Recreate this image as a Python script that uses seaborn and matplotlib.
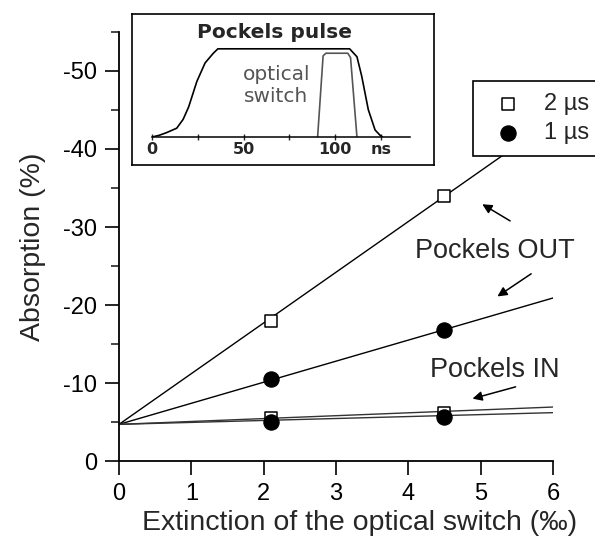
import numpy as np
import matplotlib
matplotlib.use("Agg")
import matplotlib.pyplot as plt
import seaborn as sns
import pandas as pd

# measured points (extinction in per mille, absorption in %)
extinction = [2.1, 4.5]
abs_out_2us = [-18.0, -34.0]
abs_out_1us = [-10.5, -16.8]
abs_in_2us = [-5.5, -6.2]
abs_in_1us = [-5.0, -5.6]

# linear fits: common intercept, one slope per series
fit_range = [0.0, 6.0]
fit_intercept = -4.7
fit_names = ['OUT 2us', 'OUT 1us', 'IN 2us', 'IN 1us']
fit_slopes = [-6.5, -2.7, -0.37, -0.25]
fit_colors = ['black', 'black', '#333333', '#333333']

# inset traces (ns, normalised amplitude)
pulse_t = [0, 4, 8, 13.5, 17, 20, 24.5, 29, 33.5, 36, 108, 112, 114.6, 118.2, 121.9, 124.6, 126]
pulse_a = [0, 0.02, 0.05, 0.10, 0.20, 0.34, 0.63, 0.84, 0.95, 1.0, 1.0, 0.91, 0.69, 0.31, 0.08, 0.02, 0]
switch_t = [90.5, 93.5, 95, 107, 108.5, 112]
switch_a = [0, 0.92, 0.95, 0.95, 0.90, 0]

x_ticks = [0, 1, 2, 3, 4, 5, 6]
y_ticks = [0, -10, -20, -30, -40, -50]
y_ticklabels = ['0', '-10', '-20', '-30', '-40', '-50']
inset_ticks = [0, 50, 100, 125]
inset_ticklabels = ['0', '50', '100', 'ns']

sns.set_theme(style="ticks")
plt.rcParams['font.family'] = ['Liberation Sans', 'DejaVu Sans']
plt.rcParams['axes.unicode_minus'] = False

df = pd.DataFrame({
    'Extinction': extinction * 4,
    'Absorption': abs_out_2us + abs_out_1us + abs_in_2us + abs_in_1us,
    'Pulse': ['2 µs'] * 2 + ['1 µs'] * 2 + ['2 µs'] * 2 + ['1 µs'] * 2,
})
fits = pd.DataFrame({
    'Extinction': fit_range * len(fit_names),
    'Absorption': [fit_intercept + s * x for s in fit_slopes for x in fit_range],
    'Fit': [n for n in fit_names for _ in fit_range],
})

fig = plt.figure(figsize=(5.95, 5.45), dpi=100)
ax = fig.add_axes([0.2, 0.1541, 0.7294, 0.7872])

for name, col in zip(fit_names, fit_colors):
    sns.lineplot(data=fits[fits.Fit == name], x='Extinction', y='Absorption',
                 color=col, lw=1.0, ax=ax, legend=False)

sq = df[df.Pulse == '2 µs']
ci = df[df.Pulse == '1 µs']
sns.scatterplot(data=sq, x='Extinction', y='Absorption', marker='s', s=80,
                facecolor='white', edgecolor='black', linewidth=1.1,
                label='2 µs', ax=ax, zorder=5)
sns.scatterplot(data=ci, x='Extinction', y='Absorption', marker='o', s=120,
                color='black', edgecolor='black', label='1 µs', ax=ax, zorder=5)

ax.set_xlim(0, 6)
ax.set_ylim(0, -55)
ax.set_xticks(x_ticks)
ax.set_yticks(y_ticks)
ax.set_yticklabels(y_ticklabels)
ax.set_yticks(np.arange(-5, -56, -10), minor=True)
ax.tick_params(axis='both', which='major', direction='out', length=10, width=1.2,
               labelsize=17, pad=6, color='black', labelcolor='black')
ax.tick_params(axis='y', which='minor', direction='out', length=6, width=1.2)
sns.despine(ax=ax)
for sp in ['left', 'bottom']:
    ax.spines[sp].set_linewidth(1.3)
    ax.spines[sp].set_color('black')
ax.set_xlabel('Extinction of the optical switch (‰)', fontsize=20.5, labelpad=6)
ax.xaxis.set_label_coords(0.555, -0.115)
ax.set_ylabel('Absorption (%)', fontsize=20.5, labelpad=12)

ax.text(5.2, -26.9, 'Pockels OUT', fontsize=19.5, ha='center', va='center')
ax.text(5.19, -11.7, 'Pockels IN', fontsize=19.5, ha='center', va='center')
arrow = dict(arrowstyle='-|>', color='black', lw=1.1, mutation_scale=14)
ax.annotate('', xy=(4.99, -33.1), xytext=(5.44, -30.6), arrowprops=arrow)
ax.annotate('', xy=(5.2, -20.9), xytext=(5.73, -24.2), arrowprops=arrow)
ax.annotate('', xy=(4.85, -7.9), xytext=(5.52, -9.6), arrowprops=arrow)

leg = ax.legend(loc='upper left', bbox_to_anchor=(473 / 595, 1 - 81 / 545),
                bbox_transform=fig.transFigure, borderaxespad=0, fontsize=17,
                handletextpad=0.5, labelspacing=0.3, borderpad=0.5,
                frameon=True, fancybox=False, edgecolor='black', framealpha=1)
leg.get_frame().set_linewidth(1.2)

# inset: frame plus an inner axes with the traces
box = fig.add_axes([0.2218, 0.6972, 0.5076, 0.2771])
box.set_xticks([])
box.set_yticks([])
for sp in box.spines.values():
    sp.set_linewidth(1.2)
    sp.set_color('black')

ins = fig.add_axes([0.2555, 0.7486, 0.4336, 0.178])
ins.patch.set_alpha(0)
sns.lineplot(x=pulse_t, y=pulse_a, color='black', lw=1.2, ax=ins)
sns.lineplot(x=switch_t, y=switch_a, color='#555555', lw=1.2, ax=ins)
ins.set_xlim(0, 141)
ins.set_ylim(0, 1.1)
ins.set_yticks([])
ins.set_xticks(inset_ticks)
ins.set_xticklabels(inset_ticklabels)
ins.set_xticks([25, 75], minor=True)
ins.tick_params(axis='x', which='both', direction='inout', length=5, width=1,
                pad=1, labelsize=11.5)
for lab in ins.get_xticklabels():
    lab.set_fontweight('bold')
    lab.set_family('DejaVu Sans')
for sp in ['left', 'right', 'top']:
    ins.spines[sp].set_visible(False)
ins.spines['bottom'].set_linewidth(1.1)
ins.spines['bottom'].set_color('black')
ins.text(67, 1.18, 'Pockels pulse', fontsize=14.5, fontweight='bold',
         family='DejaVu Sans', ha='center', va='center')
ins.text(68, 0.585, 'optical\nswitch', fontsize=14.5, color='#555555',
         family='DejaVu Sans', ha='center', va='center', linespacing=1.25)

fig.savefig('out.png', dpi=100)
